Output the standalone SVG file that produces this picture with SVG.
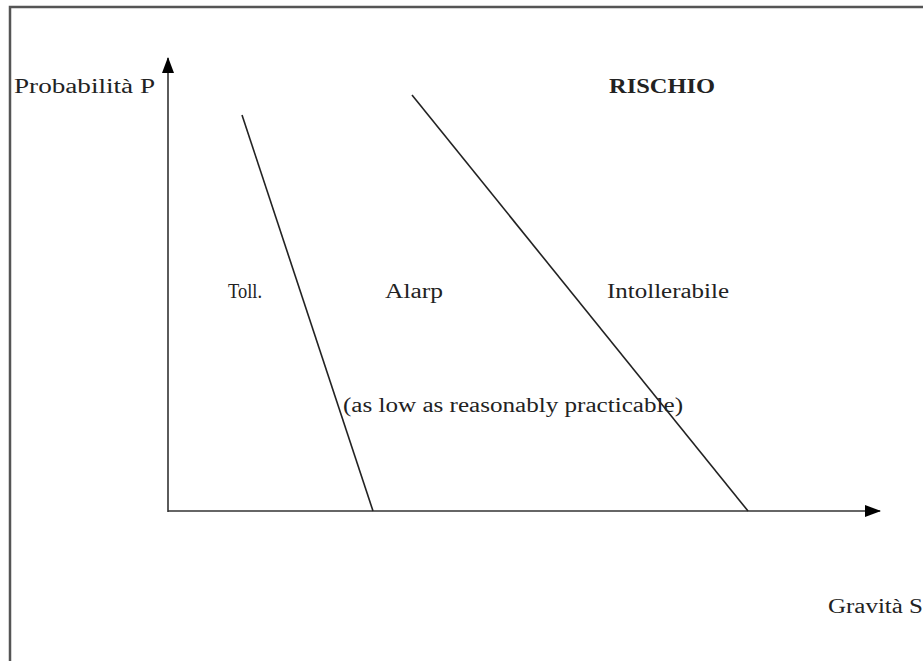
<svg xmlns="http://www.w3.org/2000/svg" width="923" height="661" viewBox="0 0 923 661">
<style>
.t{font-family:"Liberation Serif","Times New Roman",serif;font-size:20px;fill:#222}
.b{font-weight:bold}
.ax{stroke:#333;stroke-width:1.6;fill:none}
.ln{stroke:#222;stroke-width:1.6;fill:none}
</style>
<defs>
<marker id="ah" markerWidth="16" markerHeight="12" refX="15" refY="6" orient="auto" markerUnits="userSpaceOnUse">
<path d="M0,0 L16,6 L0,12 Z" fill="#000"/>
</marker>
</defs>
<rect width="923" height="661" fill="#fff"/>
<path d="M10,661 L10,7 L923,7" stroke="#555" stroke-width="2.5" fill="none"/>
<g id="connectors">
<line class="ax" x1="168" y1="512" x2="168" y2="58" marker-end="url(#ah)"/>
<line class="ax" x1="168" y1="511" x2="880" y2="511" marker-end="url(#ah)"/>
<line class="ln" x1="242" y1="115" x2="373" y2="511"/>
<line class="ln" x1="412" y1="95" x2="748" y2="511"/>
</g>
<g id="labels">
<text class="t" x="14" y="93" textLength="141" lengthAdjust="spacingAndGlyphs">Probabilità  P</text>
<text class="t b" x="609" y="93" textLength="106" lengthAdjust="spacingAndGlyphs">RISCHIO</text>
<text class="t" x="228" y="298" textLength="34" lengthAdjust="spacingAndGlyphs">Toll.</text>
<text class="t" x="385" y="298" textLength="58" lengthAdjust="spacingAndGlyphs">Alarp</text>
<text class="t" x="607" y="298" textLength="122" lengthAdjust="spacingAndGlyphs">Intollerabile</text>
<text class="t" x="343" y="412" textLength="340" lengthAdjust="spacingAndGlyphs">(as low as reasonably practicable)</text>
<text class="t" x="828" y="613" textLength="95" lengthAdjust="spacingAndGlyphs">Gravità S</text>
</g>
</svg>
